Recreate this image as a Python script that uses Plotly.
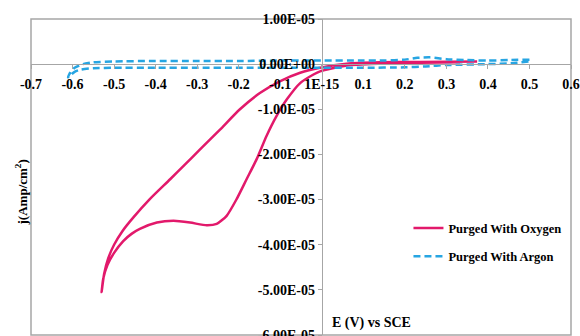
import plotly.graph_objects as go

# ---- data (E in V vs SCE, j in units of 1E-5 Amp/cm^2) ----
oxy_E = [0.333, 0.236, 0.140, 0.060, -0.004, -0.020, -0.052, -0.084, -0.109, -0.133,
         -0.157, -0.181, -0.205, -0.229, -0.253, -0.277, -0.317, -0.357, -0.397, -0.438,
         -0.458, -0.478, -0.500, -0.516, -0.526, -0.530,
         -0.524, -0.514, -0.500, -0.480, -0.454, -0.414, -0.365, -0.329, -0.293, -0.245, -0.197,
         -0.149, -0.101, -0.052, -0.004, 0.060, 0.140, 0.236, 0.374]
oxy_j = [0.04, 0.03, 0.01, -0.03, -0.16, -0.23, -0.42, -0.78, -1.15, -1.59,
         -2.11, -2.55, -2.99, -3.36, -3.54, -3.57, -3.51, -3.47, -3.51, -3.65,
         -3.76, -3.92, -4.18, -4.45, -4.75, -5.05,
         -4.65, -4.30, -4.00, -3.70, -3.40, -2.99, -2.55, -2.22, -1.89, -1.45, -1.00,
         -0.64, -0.38, -0.19, -0.08, 0.01, 0.04, 0.05, 0.06]

arg_E = [0.500, 0.450, 0.400, 0.350, 0.300, 0.260, 0.230, 0.200, 0.150, 0.100, 0.000,
         -0.100, -0.200, -0.300, -0.400, -0.500, -0.550, -0.575, -0.595, -0.605, -0.611,
         -0.606, -0.595, -0.580, -0.550, -0.500, -0.400, -0.300, -0.200, -0.100, 0.000,
         0.100, 0.200, 0.250, 0.300, 0.400, 0.460, 0.500]
arg_j = [0.10, 0.09, 0.08, 0.09, 0.11, 0.15, 0.14, 0.10, 0.08, 0.08, 0.08,
         0.08, 0.07, 0.07, 0.07, 0.06, 0.04, 0.00, -0.08, -0.18, -0.29,
         -0.25, -0.17, -0.12, -0.09, -0.08, -0.08, -0.08, -0.08, -0.08, -0.08,
         -0.08, -0.07, -0.05, -0.02, 0.00, 0.02, 0.06]

x_tickvals = [-0.7, -0.6, -0.5, -0.4, -0.3, -0.2, -0.1, 0.0, 0.1, 0.2, 0.3, 0.4, 0.5, 0.6]
x_ticktext = ["-0.7", "-0.6", "-0.5", "-0.4", "-0.3", "-0.2", "-0.1", "1E-15",
              "0.1", "0.2", "0.3", "0.4", "0.5", "0.6"]
y_tickvals = [1e-5, 0, -1e-5, -2e-5, -3e-5, -4e-5, -5e-5, -6e-5]
y_ticktext = ["1.00E-05", "0.00E+00", "-1.00E-05", "-2.00E-05", "-3.00E-05",
              "-4.00E-05", "-5.00E-05", "-6.00E-05"]

SCALE = 1e-5
XMIN, XMAX = -0.7, 0.6
YMIN, YMAX = -6e-5, 1e-5

FONT = "Liberation Serif"
GRAY = "#A6A6A6"
TICKFONT = dict(family=FONT, size=14, color="black", weight="bold")

fig = go.Figure()
fig.add_trace(go.Scatter(
    x=oxy_E, y=[v * SCALE for v in oxy_j], mode="lines",
    line=dict(color="#E2196B", width=2.5, shape="spline", smoothing=0.6),
    name="Purged With Oxygen", legendgroup="o"))
fig.add_trace(go.Scatter(
    x=arg_E, y=[v * SCALE for v in arg_j], mode="lines",
    line=dict(color="#27A5E2", width=2.5, dash="7px,4px", shape="spline", smoothing=0.6),
    name="Purged With Argon", legendgroup="a"))

fig.update_layout(
    width=580, height=336,
    margin=dict(l=31, r=9, t=19, b=1),
    paper_bgcolor="white", plot_bgcolor="white",
    font=dict(family=FONT, size=13, color="black"),
    showlegend=True,
    legend=dict(x=0.699, y=0.385, xanchor="left", yanchor="top",
                itemwidth=30, tracegroupgap=9, traceorder="grouped",
                font=dict(family=FONT, size=12.5, color="black", weight="bold"),
                bgcolor="rgba(0,0,0,0)"),
    xaxis=dict(range=[XMIN, XMAX], anchor="free", automargin=False,
               position=(0 - YMIN) / (YMAX - YMIN),
               tickmode="array", tickvals=x_tickvals, ticktext=x_ticktext,
               showgrid=False, zeroline=False, showline=True, linecolor=GRAY,
               linewidth=1, ticks="outside", ticklen=4, tickcolor=GRAY,
               tickfont=TICKFONT, ticklabelstandoff=3, ticklabeloverflow="allow"),
    yaxis=dict(range=[YMIN, YMAX], anchor="free", automargin=False,
               position=(0 - XMIN) / (XMAX - XMIN),
               tickmode="array", tickvals=y_tickvals, ticktext=y_ticktext,
               showgrid=False, zeroline=False, showline=True, linecolor=GRAY,
               linewidth=1, ticks="outside", ticklen=4, tickcolor=GRAY,
               tickfont=TICKFONT, ticklabeloverflow="allow"),
    shapes=[dict(type="rect", xref="paper", yref="paper", x0=0, x1=1, y0=0, y1=1,
                 line=dict(color=GRAY, width=1.5), layer="below")],
    annotations=[
        dict(text="E (V) vs SCE", xref="paper", yref="paper",
             x=0.63, y=0.038, xanchor="center", yanchor="middle", showarrow=False,
             font=dict(family=FONT, size=14, color="black", weight="bold")),
        dict(text="j(Amp/cm<sup>2</sup>)", xref="paper", yref="paper",
             x=-0.0167, y=0.451, xanchor="center", yanchor="middle",
             showarrow=False, textangle=-90,
             font=dict(family=FONT, size=13, color="black", weight="bold")),
    ],
)

fig.write_html("out.html",
               config={"displayModeBar": False},
               post_script="document.body.style.margin='0';document.body.style.overflow='hidden';")
